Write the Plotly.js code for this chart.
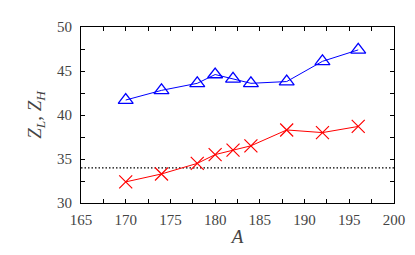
<!DOCTYPE html>
<html>
<head>
<meta charset="utf-8">
<script src="https://cdn.plot.ly/plotly-3.0.1.min.js"></script>
<style>html,body{margin:0;padding:0;background:#fff;}#chart{width:415px;height:255px;}</style>
</head>
<body>
<div id="chart"></div>
<script>
const massA = [170, 174, 178, 180, 182, 184, 188, 192, 196];
const zHigh = [41.7, 42.8, 43.6, 44.6, 44.1, 43.6, 43.8, 46.1, 47.4];
const zLow = [32.4, 33.3, 34.5, 35.5, 36.0, 36.5, 38.3, 38.0, 38.7];
const refX = [165, 200];
const refY = [34, 34];

const fam = '"Liberation Serif", serif';
const font = {family: fam, size: 15, color: '#444'};

const traces = [
  {x: refX, y: refY, mode: 'lines', line: {color: '#000', width: 1.2, dash: '1.5px,2px'}, hoverinfo: 'skip'},
  {x: massA, y: zHigh, mode: 'lines+markers', line: {color: '#0000ff', width: 1},
   marker: {symbol: 'triangle-up-open', size: 13, color: '#0000ff', line: {width: 1.3, color: '#0000ff'}}},
  {x: massA, y: zLow, mode: 'lines+markers', line: {color: '#ff0000', width: 1},
   marker: {symbol: 'x-thin-open', size: 13, color: '#ff0000', line: {width: 1.2, color: '#ff0000'}}}
];

const axisCommon = {
  showgrid: false, zeroline: false, showline: true, mirror: 'allticks',
  linecolor: '#000', linewidth: 1, ticks: 'inside', ticklen: 4, tickcolor: '#000', tickwidth: 1,
  tickfont: font,
  minor: {ticks: 'inside', ticklen: 4, tickcolor: '#000', tickwidth: 1, showgrid: false}
};

const layout = {
  width: 415, height: 255,
  margin: {l: 81, r: 21, t: 27, b: 52},
  paper_bgcolor: '#fff', plot_bgcolor: '#fff',
  showlegend: false,
  font: font,
  xaxis: Object.assign({}, axisCommon, {
    range: [165, 200], dtick: 5, tick0: 165, ticklabelstandoff: 3,
    minor: Object.assign({}, axisCommon.minor, {dtick: 2.5}),
    title: {text: '<i>A</i>', font: {family: fam, size: 19, color: '#444'}, standoff: 2}
  }),
  yaxis: Object.assign({}, axisCommon, {
    range: [30, 50], dtick: 5, tick0: 30, ticklabelstandoff: 5,
    minor: Object.assign({}, axisCommon.minor, {dtick: 2.5}),
    title: {text: '<i>Z<sub>L</sub></i>, <i>Z<sub>H</sub></i>', font: {family: fam, size: 19, color: '#444'}, standoff: 10}
  })
};

Plotly.newPlot('chart', traces, layout, {displayModeBar: false, staticPlot: true});
</script>
</body>
</html>
